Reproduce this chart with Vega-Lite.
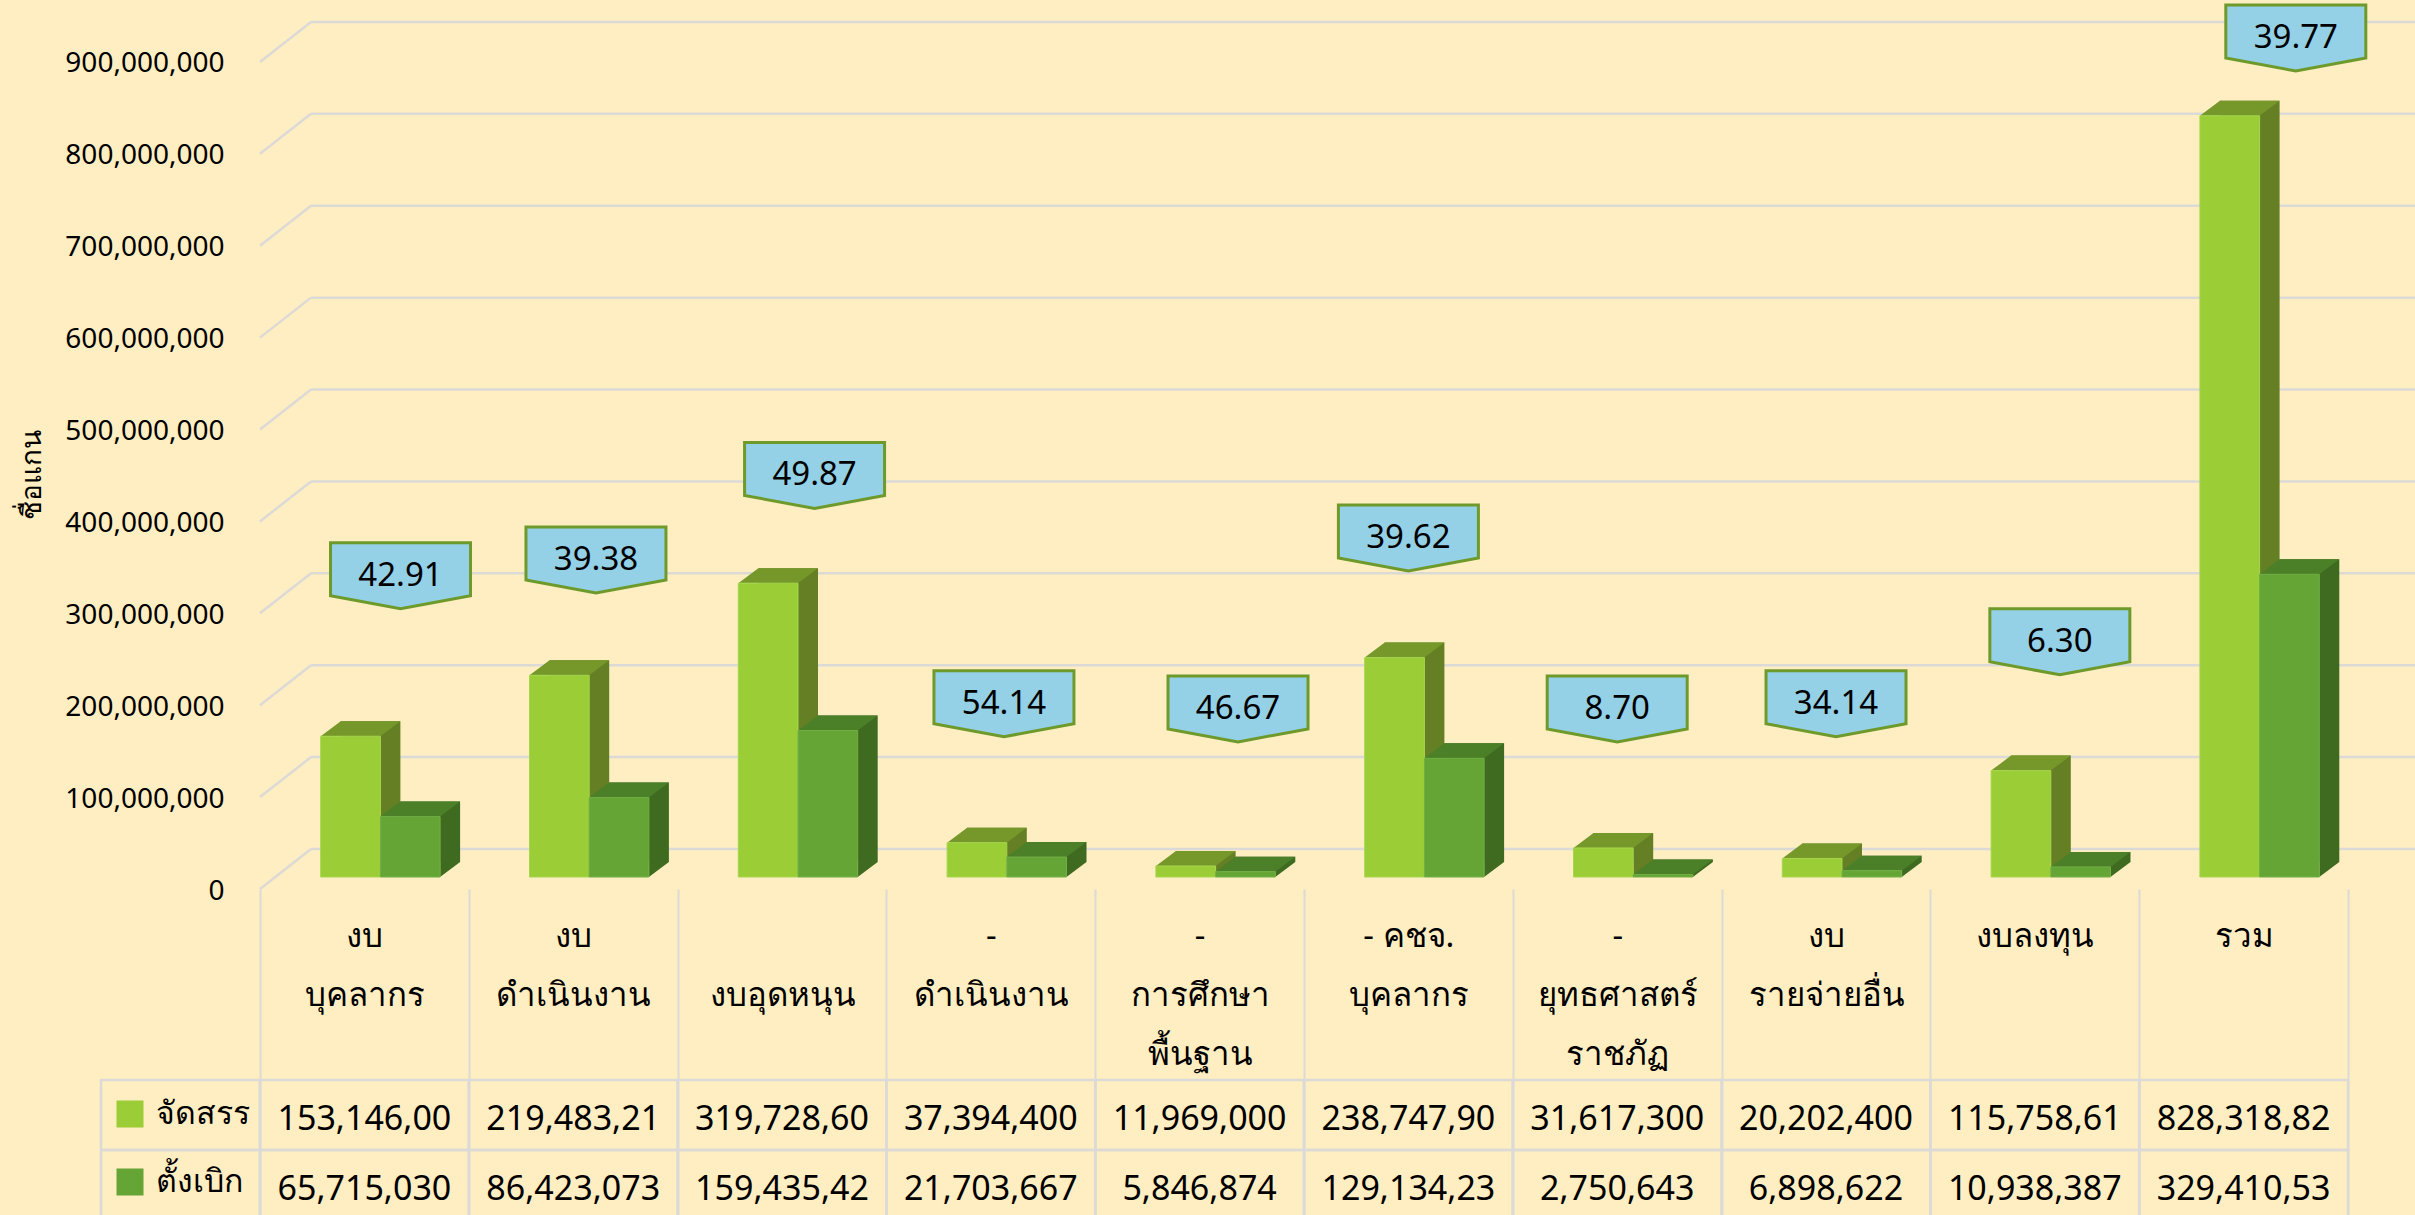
{
"$schema":"https://vega.github.io/schema/vega-lite/v6.json",
"width":2088,"height":889,
"autosize":{"type":"none"},
"padding":{"left":260,"top":0,"right":67,"bottom":326},
"background":"#FFEEC2",
"config":{"view":{"stroke":null},"font":"Noto Sans"},
"datasets":{
"bars":[
{"category":"งบ\nบุคลากร","series":"จัดสรร","value":153146000,"label":"153,146,00"},
{"category":"งบ\nดำเนินงาน","series":"จัดสรร","value":219483210,"label":"219,483,21"},
{"category":"\nงบอุดหนุน","series":"จัดสรร","value":319728600,"label":"319,728,60"},
{"category":"-\nดำเนินงาน","series":"จัดสรร","value":37394400,"label":"37,394,400"},
{"category":"-\nการศึกษา\nพื้นฐาน","series":"จัดสรร","value":11969000,"label":"11,969,000"},
{"category":"- คชจ.\nบุคลากร","series":"จัดสรร","value":238747900,"label":"238,747,90"},
{"category":"-\nยุทธศาสตร์\nราชภัฏ","series":"จัดสรร","value":31617300,"label":"31,617,300"},
{"category":"งบ\nรายจ่ายอื่น","series":"จัดสรร","value":20202400,"label":"20,202,400"},
{"category":"งบลงทุน","series":"จัดสรร","value":115758610,"label":"115,758,61"},
{"category":"รวม","series":"จัดสรร","value":828318820,"label":"828,318,82"},
{"category":"งบ\nบุคลากร","series":"ตั้งเบิก","value":65715030,"label":"65,715,030"},
{"category":"งบ\nดำเนินงาน","series":"ตั้งเบิก","value":86423073,"label":"86,423,073"},
{"category":"\nงบอุดหนุน","series":"ตั้งเบิก","value":159435420,"label":"159,435,42"},
{"category":"-\nดำเนินงาน","series":"ตั้งเบิก","value":21703667,"label":"21,703,667"},
{"category":"-\nการศึกษา\nพื้นฐาน","series":"ตั้งเบิก","value":5846874,"label":"5,846,874"},
{"category":"- คชจ.\nบุคลากร","series":"ตั้งเบิก","value":129134230,"label":"129,134,23"},
{"category":"-\nยุทธศาสตร์\nราชภัฏ","series":"ตั้งเบิก","value":2750643,"label":"2,750,643"},
{"category":"งบ\nรายจ่ายอื่น","series":"ตั้งเบิก","value":6898622,"label":"6,898,622"},
{"category":"งบลงทุน","series":"ตั้งเบิก","value":10938387,"label":"10,938,387"},
{"category":"รวม","series":"ตั้งเบิก","value":329410530,"label":"329,410,53"}
],
"callouts":[
{"percent":"42.91","slot":0.673,"level":341000000},
{"percent":"39.38","slot":1.609,"level":358000000},
{"percent":"49.87","slot":2.656,"level":450000000},
{"percent":"54.14","slot":3.563,"level":201600000},
{"percent":"46.67","slot":4.684,"level":196000000},
{"percent":"39.62","slot":5.5,"level":382000000},
{"percent":"8.70","slot":6.5,"level":196000000},
{"percent":"34.14","slot":7.548,"level":201600000},
{"percent":"6.30","slot":8.62,"level":269000000},
{"percent":"39.77","slot":9.75,"level":926000000}
],
"ticks":[{"tick":0},{"tick":100000000},{"tick":200000000},{"tick":300000000},{"tick":400000000},{"tick":500000000},{"tick":600000000},{"tick":700000000},{"tick":800000000},{"tick":900000000}]
},
"resolve":{"scale":{"x":"independent","y":"independent"}},
"layer":[
{
"data":{"name":"bars"},
"encoding":{
"x":{"field":"category","type":"nominal","sort":null,"scale":{"type":"band","domain":["งบ\nบุคลากร","งบ\nดำเนินงาน","\nงบอุดหนุน","-\nดำเนินงาน","-\nการศึกษา\nพื้นฐาน","- คชจ.\nบุคลากร","-\nยุทธศาสตร์\nราชภัฏ","งบ\nรายจ่ายอื่น","งบลงทุน","รวม"],"paddingInner":0,"paddingOuter":0},
"axis":{"title":null,"orient":"bottom","domain":false,"ticks":true,"tickBand":"extent","tickColor":"#DCDAD6","tickWidth":2,"tickSize":326,"labelPadding":-295,"labelAngle":0,"labelBaseline":"top","labelAlign":"center","labelFont":"Noto Sans","labelFontSize":33,"labelColor":"#000000","labelLineHeight":59,"labelLimit":0,"labelOverlap":false,"labelExpr":"split(datum.label,'\\n')"}},
"y":{"field":"value","type":"quantitative","stack":null,"scale":{"domain":[0,967400000],"nice":false},
"axis":{"title":"ชื่อแกน","titleFont":"Noto Sans","titleFontSize":28,"titleFontWeight":"normal","titleColor":"#000000","titleX":-214,"titleY":474,"values":[0,100000000,200000000,300000000,400000000,500000000,600000000,700000000,800000000,900000000],"format":",d","domain":false,"ticks":false,"grid":false,"labelFont":"Noto Sans","labelFontSize":28,"labelColor":"#000000","labelPadding":36,"labelOffset":2}}
},
"layer":[
{"data":{"name":"ticks"},"mark":{"type":"rule","color":"#DCDAD6","strokeWidth":2.5,"xOffset":51,"x2Offset":260.8,"yOffset":-40},"encoding":{"x":{"datum":"งบ\nบุคลากร","bandPosition":0},"x2":{"datum":"รวม"},"y":{"field":"tick","type":"quantitative","scale":{"domain":[0,967400000],"nice":false}}}},
{"data":{"name":"ticks"},"mark":{"type":"point","shape":"M0,0L.255,-.2","size":160000,"filled":false,"stroke":"#DCDAD6","strokeWidth":2.5,"opacity":1},"encoding":{"x":{"datum":"งบ\nบุคลากร","bandPosition":0},"y":{"field":"tick","type":"quantitative"}}},

{"transform":[{"filter":"datum.series==='จัดสรร'"}],"mark":{"type":"bar","width":59.7,"xOffset":6.15,"yOffset":-27,"y2Offset":-27,"color":"#647F24"},"encoding":{"y2":{"datum":0}}},
{"transform":[{"filter":"datum.series==='จัดสรร'"}],"mark":{"type":"point","shape":"M0,0L.1,-.075L0,-.075Z","size":160000,"filled":true,"opacity":1,"color":"#647F24","xOffset":16,"yOffset":-12},"encoding":{"y":{"datum":0}}},
{"transform":[{"filter":"datum.series==='จัดสรร'"}],"mark":{"type":"point","shape":"M0,0L.1,-.075L.3985,-.075L.2985,0Z","size":160000,"filled":true,"opacity":1,"color":"#76972A","xOffset":-43.7,"yOffset":-12}},
{"transform":[{"filter":"datum.series==='จัดสรร'"}],"mark":{"type":"bar","width":59.7,"xOffset":-13.85,"yOffset":-12,"y2Offset":-12,"stroke":"#A6D64E","strokeWidth":1},
 "encoding":{"y2":{"datum":0},"color":{"field":"series","type":"nominal","scale":{"domain":["จัดสรร","ตั้งเบิก"],"range":["#9ACD36","#65A535"]},
 "legend":{"title":null,"orient":"none","legendX":-146,"legendY":1098,"symbolType":"square","symbolSize":729,"symbolStrokeWidth":0,"labelFont":"Noto Sans","labelFontSize":32,"labelColor":"#000000","labelOffset":10,"rowPadding":36,"symbolOpacity":1}}}},

{"transform":[{"filter":"datum.series==='ตั้งเบิก'"}],"mark":{"type":"bar","width":59.7,"xOffset":65.85,"yOffset":-27,"y2Offset":-27,"color":"#3E6B20"},"encoding":{"y2":{"datum":0}}},
{"transform":[{"filter":"datum.series==='ตั้งเบิก'"}],"mark":{"type":"point","shape":"M0,0L.1,-.075L0,-.075Z","size":160000,"filled":true,"opacity":1,"color":"#3E6B20","xOffset":75.7,"yOffset":-12},"encoding":{"y":{"datum":0}}},
{"transform":[{"filter":"datum.series==='ตั้งเบิก'"}],"mark":{"type":"point","shape":"M0,0L.1,-.075L.3985,-.075L.2985,0Z","size":160000,"filled":true,"opacity":1,"color":"#4B7F28","xOffset":16,"yOffset":-12}},
{"transform":[{"filter":"datum.series==='ตั้งเบิก'"}],"mark":{"type":"bar","width":59.7,"xOffset":45.85,"yOffset":-12,"y2Offset":-12,"stroke":"#72AF45","strokeWidth":1},
 "encoding":{"y2":{"datum":0},"color":{"field":"series","type":"nominal"}}}
]
},
{
"data":{"name":"bars"},
"encoding":{
"x":{"field":"category","type":"nominal","sort":null,"axis":null,"scale":{"type":"band","domain":["งบ\nบุคลากร","งบ\nดำเนินงาน","\nงบอุดหนุน","-\nดำเนินงาน","-\nการศึกษา\nพื้นฐาน","- คชจ.\nบุคลากร","-\nยุทธศาสตร์\nราชภัฏ","งบ\nรายจ่ายอื่น","งบลงทุน","รวม"],"paddingInner":0,"paddingOuter":0}},
"y":{"field":"series","type":"nominal","axis":null,"scale":{"type":"band","domain":["จัดสรร","ตั้งเบิก"],"range":[1080,1220],"paddingInner":0,"paddingOuter":0}}
},
"layer":[
{"mark":{"type":"rect","fill":"transparent","stroke":"#DCDAD6","strokeWidth":2.5}},
{"transform":[{"filter":"datum.category==='งบ\\nบุคลากร'"}],"mark":{"type":"rect","width":159,"xOffset":-183.9,"fill":"transparent","stroke":"#DCDAD6","strokeWidth":2.5}},
{"mark":{"type":"text","font":"Noto Sans","fontSize":34,"color":"#000000","align":"center","baseline":"middle","yOffset":5},"encoding":{"text":{"field":"label"}}}
]
},
{
"data":{"name":"callouts"},
"encoding":{
"x":{"field":"slot","type":"quantitative","axis":null,"scale":{"domain":[0,10],"nice":false,"zero":false}},
"y":{"field":"level","type":"quantitative","axis":null,"scale":{"domain":[0,967400000],"nice":false}}
},
"layer":[
{"mark":{"type":"point","shape":"M-.35,-.165L.35,-.165L.35,.1L0,.165L-.35,.1Z","size":160000,"filled":true,"opacity":1,"fill":"#94D1E6","stroke":"#6E9A2B","strokeWidth":3}},
{"mark":{"type":"text","font":"Noto Sans","fontSize":33,"color":"#000000","align":"center","baseline":"middle","yOffset":0},"encoding":{"text":{"field":"percent"}}}
]
}
]
}
